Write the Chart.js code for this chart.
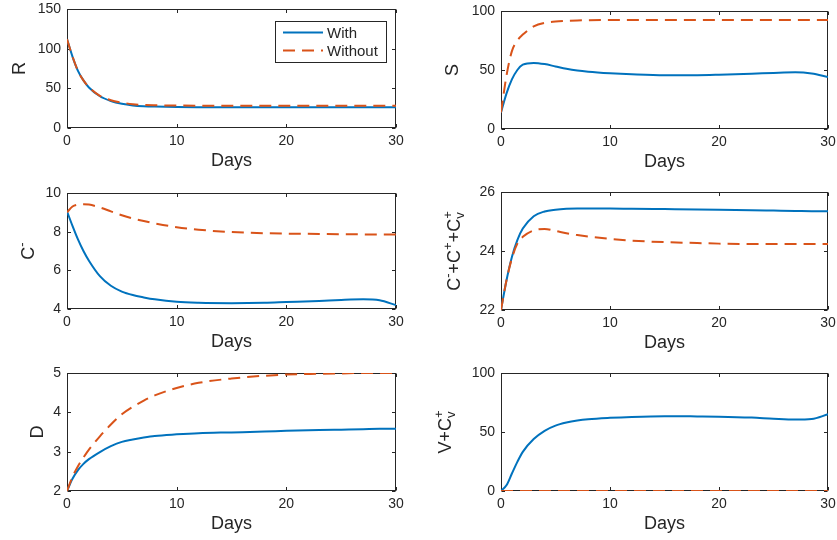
<!DOCTYPE html>
<html>
<head>
<meta charset="utf-8">
<script src="https://cdn.jsdelivr.net/npm/chart.js@4.4.1/dist/chart.umd.min.js"></script>
<style>
  body { margin: 0; background: #fff; }
  #wrap { position: relative; width: 837px; height: 540px; }
  canvas { position: absolute; }
</style>
</head>
<body>
<div id="wrap"></div>
<script>
// shared time axis (days)
const days = [0, 0.5, 1, 1.5, 2, 3, 4, 5, 6, 7, 8, 10, 12, 15, 18, 20, 23, 25, 27, 28.5, 30];
const dayTicks = [0, 10, 20, 30];

// R
const rWith    = [112, 90, 72, 60, 51, 40, 34, 30.5, 28.5, 27.5, 27, 26.5, 26.3, 26.2, 26.2, 26.2, 26.2, 26.2, 26.2, 26.2, 26.2];
const rWithout = [112, 90, 72, 60, 51.5, 40.5, 35, 32, 30, 29, 28.6, 28.3, 28.2, 28.2, 28.2, 28.2, 28.2, 28.2, 28.2, 28.2, 28.2];
const rTicks = [0, 50, 100, 150];

// S
const sWith    = [14, 30, 42, 50, 54.5, 56, 55, 53, 51, 49.5, 48.5, 47.2, 46.3, 45.5, 45.6, 46, 46.8, 47.5, 48, 47, 44];
const sWithout = [14, 45, 66, 75, 80, 87, 90, 91, 91.6, 92, 92.2, 92.3, 92.3, 92.3, 92.3, 92.3, 92.3, 92.3, 92.3, 92.3, 92.3];
const sTicks = [0, 50, 100];

// C-
const cmWith    = [9.05, 8.3, 7.6, 7.0, 6.5, 5.7, 5.2, 4.9, 4.72, 4.6, 4.5, 4.37, 4.32, 4.3, 4.32, 4.36, 4.42, 4.47, 4.5, 4.45, 4.2];
const cmWithout = [9.0, 9.3, 9.4, 9.42, 9.4, 9.25, 9.05, 8.85, 8.68, 8.55, 8.43, 8.23, 8.1, 7.98, 7.92, 7.9, 7.88, 7.87, 7.86, 7.85, 7.85];
const cmTicks = [4, 6, 8, 10];

// C- + C+ + Cv+
const csWith    = [22, 23.0, 23.8, 24.37, 24.76, 25.18, 25.34, 25.4, 25.43, 25.44, 25.44, 25.44, 25.43, 25.42, 25.41, 25.4, 25.38, 25.37, 25.36, 25.35, 25.35];
const csWithout = [22, 23.0, 23.75, 24.25, 24.48, 24.7, 24.75, 24.68, 24.6, 24.54, 24.49, 24.41, 24.35, 24.3, 24.27, 24.25, 24.24, 24.24, 24.24, 24.24, 24.24];
const csTicks = [22, 24, 26];

// D
const dWith    = [2, 2.31, 2.53, 2.69, 2.81, 2.99, 3.14, 3.25, 3.31, 3.36, 3.4, 3.44, 3.47, 3.49, 3.51, 3.53, 3.55, 3.56, 3.57, 3.58, 3.58];
const dWithout = [2, 2.36, 2.63, 2.85, 3.05, 3.39, 3.69, 3.95, 4.14, 4.3, 4.43, 4.62, 4.75, 4.86, 4.93, 4.96, 4.98, 4.99, 5.0, 5.0, 5.0];
const dTicks = [2, 3, 4, 5];

// V + Cv+
const vWith    = [0, 4.8, 14.8, 24.7, 33.2, 44, 51, 55.4, 58, 59.7, 60.8, 62, 62.8, 63.4, 63.2, 63, 62.2, 61.2, 60.5, 61, 65];
const vWithout = [0, 0, 0, 0, 0, 0, 0, 0, 0, 0, 0, 0, 0, 0, 0, 0, 0, 0, 0, 0, 0];
const vTicks = [0, 50, 100];

const seriesNames = ['With', 'Without'];
const BLUE = '#0072BD', ORANGE = '#D95319', INK = '#262626';
const FONT = '"Liberation Sans", Arial, Helvetica, sans-serif';

// canvas box [left, top, w, h], plot area inside canvas [l, t, r, b]
const panels = [
  { box: [0, 0, 418, 180],   area: [67, 9, 396, 128],  yl: [{ t: 'R' }], ya: rTicks, a: rWith, b: rWithout, legend: true, tx: 48.5 },
  { box: [418, 0, 419, 180], area: [83, 11, 410, 129], yl: [{ t: 'S' }], ya: sTicks, a: sWith, b: sWithout, tx: 49.7 },
  { box: [0, 180, 418, 180], area: [67, 13, 396, 129], yl: [{ t: 'C', sup: '-' }], ya: cmTicks, a: cmWith, b: cmWithout, tx: 39.5 },
  { box: [418, 180, 419, 180], area: [83, 12, 410, 130], yl: [{ t: 'C', sup: '-' }, { t: '+C', sup: '+' }, { t: '+C', sup: '+', sub: 'v' }], ya: csTicks, a: csWith, b: csWithout, tx: 47.3 },
  { box: [0, 360, 418, 180], area: [67, 13, 396, 131], yl: [{ t: 'D' }], ya: dTicks, a: dWith, b: dWithout, tx: 30 },
  { box: [418, 360, 419, 180], area: [83, 13, 410, 131], yl: [{ t: 'V+C', sup: '+', sub: 'v' }], ya: vTicks, a: vWith, b: vWithout, tx: 56.8 }
];

function drawYTitle(ctx, parts, cx, cy) {
  const fs = 18, ss = 13;
  let total = 0;
  const w = parts.map(p => {
    ctx.font = fs + 'px ' + FONT;
    const m = ctx.measureText(p.t).width;
    ctx.font = ss + 'px ' + FONT;
    const s = Math.max(p.sup ? ctx.measureText(p.sup).width : 0, p.sub ? ctx.measureText(p.sub).width : 0);
    total += m + s;
    return [m, s];
  });
  ctx.save();
  ctx.translate(cx, cy);
  ctx.rotate(-Math.PI / 2);
  ctx.fillStyle = INK;
  ctx.textBaseline = 'alphabetic';
  ctx.textAlign = 'left';
  const base = 0.36 * fs;
  let x = -total / 2;
  parts.forEach((p, i) => {
    ctx.font = fs + 'px ' + FONT;
    ctx.fillText(p.t, x, base);
    x += w[i][0];
    ctx.font = ss + 'px ' + FONT;
    if (p.sup) ctx.fillText(p.sup, x, base - 8);
    if (p.sub) ctx.fillText(p.sub, x, base + 4);
    x += w[i][1];
  });
  ctx.restore();
}

const matlabAxes = {
  id: 'matlabAxes',
  beforeDatasetsDraw(chart, args, opts) {
    const { ctx, chartArea: ca, scales } = chart;
    ctx.save();
    ctx.strokeStyle = INK;
    ctx.lineWidth = 1;
    const L = Math.round(ca.left) + 0.5, R = Math.round(ca.right) - 0.5;
    const T = Math.round(ca.top) + 0.5, B = Math.round(ca.bottom) - 0.5;
    ctx.strokeRect(L, T, R - L, B - T);
    const tl = 3.5;
    ctx.beginPath();
    scales.x.ticks.forEach(t => {
      const px = Math.round(scales.x.getPixelForValue(t.value)) + 0.5;
      ctx.moveTo(px, B); ctx.lineTo(px, B - tl);
      ctx.moveTo(px, T); ctx.lineTo(px, T + tl);
    });
    scales.y.ticks.forEach(t => {
      const py = Math.round(scales.y.getPixelForValue(t.value)) + 0.5;
      ctx.moveTo(L, py); ctx.lineTo(L + tl, py);
      ctx.moveTo(R, py); ctx.lineTo(R - tl, py);
    });
    ctx.stroke();
    // x title
    ctx.fillStyle = INK;
    ctx.font = '18px ' + FONT;
    ctx.textAlign = 'center';
    ctx.textBaseline = 'alphabetic';
    ctx.fillText('Days', (ca.left + ca.right) / 2, ca.bottom + 38);
    drawYTitle(ctx, opts.ylabel, ca.left - opts.tx, (ca.top + ca.bottom) / 2);
    ctx.restore();
  },
  afterDraw(chart, args, opts) {
    if (!opts.legend) return;
    const { ctx } = chart;
    const bx = 275, by = 21, bw = 111, bh = 41;
    ctx.save();
    ctx.fillStyle = '#fff';
    ctx.fillRect(bx, by, bw, bh);
    ctx.strokeStyle = INK;
    ctx.lineWidth = 1;
    ctx.strokeRect(bx + 0.5, by + 0.5, bw, bh);
    ctx.font = '15px ' + FONT;
    ctx.textBaseline = 'middle';
    ctx.textAlign = 'left';
    chart.data.datasets.forEach((ds, i) => {
      const y = by + 11.5 + i * 18;
      ctx.strokeStyle = ds.borderColor;
      ctx.lineWidth = ds.borderWidth;
      ctx.setLineDash(ds.borderDash || []);
      ctx.beginPath();
      ctx.moveTo(bx + 8, y); ctx.lineTo(bx + 48, y);
      ctx.stroke();
      ctx.setLineDash([]);
      ctx.fillStyle = INK;
      ctx.fillText(ds.label, bx + 52, y + 1);
    });
    ctx.restore();
  }
};

const wrap = document.getElementById('wrap');
panels.forEach(p => {
  const [cl, ct, W, H] = p.box;
  const [al, at, ar, ab] = p.area;
  const cv = document.createElement('canvas');
  cv.width = W; cv.height = H;
  cv.style.left = cl + 'px'; cv.style.top = ct + 'px';
  cv.style.width = W + 'px'; cv.style.height = H + 'px';
  wrap.appendChild(cv);
  const zeroPad = s => { s.paddingLeft = 0; s.paddingRight = 0; s.paddingTop = 0; s.paddingBottom = 0; };
  new Chart(cv, {
    type: 'line',
    data: {
      datasets: [
        { label: seriesNames[0], data: days.map((d, i) => ({ x: d, y: p.a[i] })), borderColor: BLUE, borderWidth: 2,
          pointRadius: 0, cubicInterpolationMode: 'monotone', order: 2 },
        { label: seriesNames[1], data: days.map((d, i) => ({ x: d, y: p.b[i] })), borderColor: ORANGE, borderWidth: 2,
          borderDash: [12, 7], pointRadius: 0, cubicInterpolationMode: 'monotone', order: 1 }
      ]
    },
    options: {
      responsive: false,
      animation: false,
      devicePixelRatio: 1,
      layout: { padding: { left: 0, top: at, right: W - ar, bottom: 0 } },
      plugins: {
        legend: { display: false },
        tooltip: { enabled: false },
        matlabAxes: { legend: !!p.legend, ylabel: p.yl, tx: p.tx }
      },
      scales: {
        x: {
          type: 'linear', min: 0, max: 30,
          grid: { display: false, drawTicks: false },
          border: { display: false },
          ticks: { color: INK, font: { family: FONT, size: 14 }, padding: 5, maxRotation: 0 },
          afterBuildTicks: s => { s.ticks = dayTicks.map(v => ({ value: v })); },
          afterFit: s => { s.height = H - ab; zeroPad(s); }
        },
        y: {
          type: 'linear', min: p.ya[0], max: p.ya[p.ya.length - 1],
          grid: { display: false, drawTicks: false },
          border: { display: false },
          ticks: { color: INK, font: { family: FONT, size: 14 }, padding: 6 },
          afterBuildTicks: s => { s.ticks = p.ya.map(v => ({ value: v })); },
          afterFit: s => { s.width = al; zeroPad(s); }
        }
      }
    },
    plugins: [matlabAxes]
  });
});
</script>
</body>
</html>
